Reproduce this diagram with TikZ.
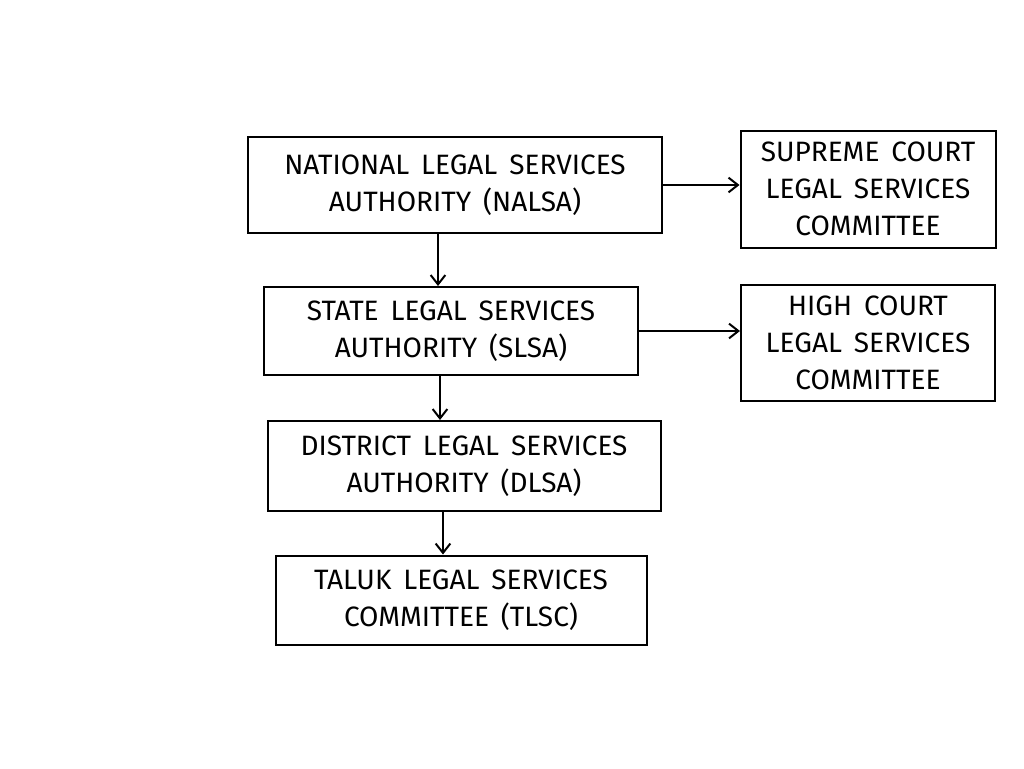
\documentclass[tikz,border=0pt]{standalone}
\usepackage{fontspec}
\setmainfont[WordSpace=1.6]{Fira Sans}
\usetikzlibrary{arrows.meta}
\begin{document}
\begin{tikzpicture}[x=0.75pt,y=-0.75pt,
  box/.style={draw,line width=1.5pt,align=center,inner sep=0pt,font=\fontsize{21}{28}\selectfont},
  arr/.style={-{Straight Barb[length=7pt,width=11pt]},line width=1.5pt}]
\useasboundingbox (0,0) rectangle (1024,768);
\node[box,minimum width=414*0.75pt,minimum height=96*0.75pt] (nalsa) at (455,185) {NATIONAL LEGAL SERVICES\\AUTHORITY (NALSA)};
\node[box,minimum width=255*0.75pt,minimum height=117*0.75pt] (sc) at (868,189) {SUPREME COURT\\LEGAL SERVICES\\COMMITTEE};
\node[box,minimum width=374*0.75pt,minimum height=88*0.75pt] (slsa) at (451,331) {STATE LEGAL SERVICES\\AUTHORITY (SLSA)};
\node[box,minimum width=254*0.75pt,minimum height=116*0.75pt] (hc) at (868,343) {HIGH COURT\\LEGAL SERVICES\\COMMITTEE};
\node[box,minimum width=393*0.75pt,minimum height=90*0.75pt] (dlsa) at (464,466) {DISTRICT LEGAL SERVICES\\AUTHORITY (DLSA)};
\node[box,minimum width=371*0.75pt,minimum height=89*0.75pt] (tlsc) at (461,600) {TALUK LEGAL SERVICES\\COMMITTEE (TLSC)};
\draw[arr] (nalsa.east) -- (sc.west |- nalsa.east);
\draw[arr] (slsa.east) -- (hc.west |- slsa.east);
\draw[arr] (nalsa.south -| 438,0) -- (slsa.north -| 438,0);
\draw[arr] (slsa.south -| 440,0) -- (dlsa.north -| 440,0);
\draw[arr] (dlsa.south -| 443,0) -- (tlsc.north -| 443,0);
\end{tikzpicture}
\end{document}
